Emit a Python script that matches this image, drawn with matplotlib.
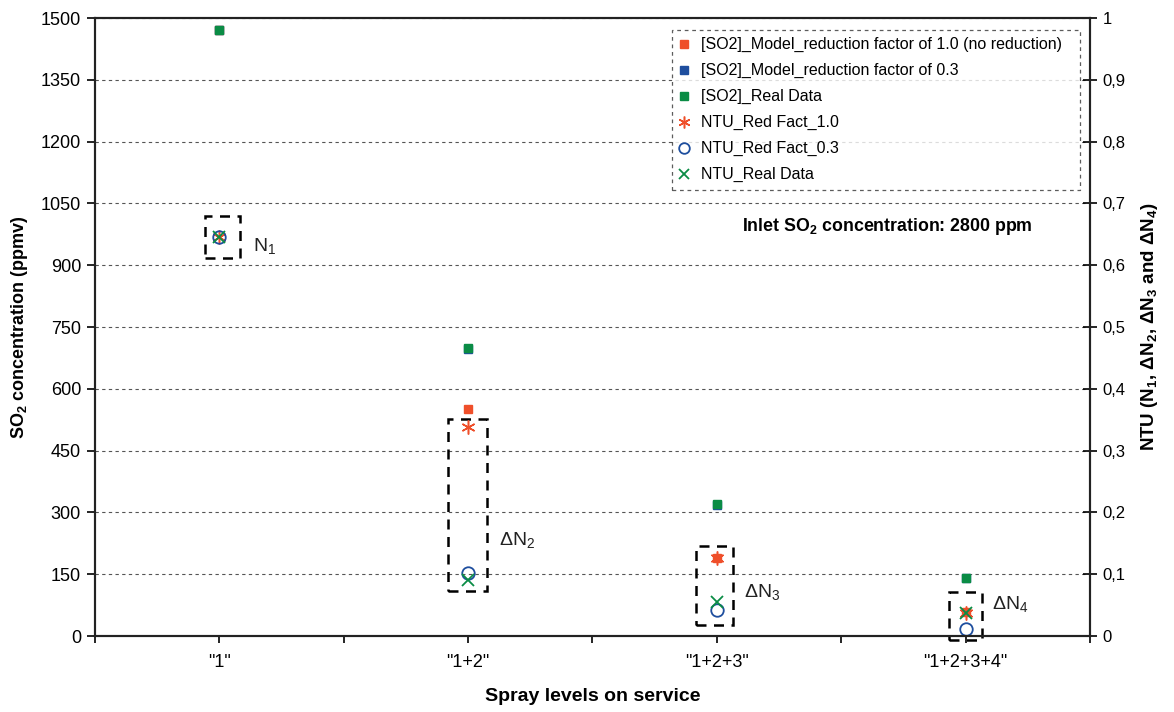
import matplotlib
matplotlib.use('Agg')
import matplotlib.pyplot as plt
from matplotlib.patches import Rectangle

plt.rcParams['font.family'] = ['Liberation Sans', 'DejaVu Sans']
plt.rcParams['mathtext.fontset'] = 'custom'
plt.rcParams['mathtext.rm'] = 'Liberation Sans'
plt.rcParams['mathtext.bf'] = 'Liberation Sans:bold'

# spray levels
categories = ['"1"', '"1+2"', '"1+2+3"', '"1+2+3+4"']

# SO2 concentration (ppmv)
so2_model_10 = [1470, 551, 189, 58]
so2_model_03 = [1470, 697, 318, 142]
so2_real = [1470, 700, 320, 141]

# NTU values
ntu_red_10 = [0.646, 0.338, 0.126, 0.038]
ntu_red_03 = [0.646, 0.102, 0.042, 0.011]
ntu_real = [0.646, 0.091, 0.055, 0.037]

left_ticks = [0, 150, 300, 450, 600, 750, 900, 1050, 1200, 1350, 1500]
right_ticks = [0, 0.1, 0.2, 0.3, 0.4, 0.5, 0.6, 0.7, 0.8, 0.9, 1.0]
right_ticklabels = ['0', '0,1', '0,2', '0,3', '0,4', '0,5', '0,6', '0,7', '0,8', '0,9', '1']

# dashed boxes around the NTU groups: (x0, x1, y0, y1) in x / ppmv units, label
boxes = [(-0.058, 0.083, 917, 1019, 'N$_1$'),
         (0.919, 1.076, 109, 527, '\u0394N$_2$'),
         (1.916, 2.065, 27, 218, '\u0394N$_3$'),
         (2.933, 3.066, -10, 107, '\u0394N$_4$')]
box_label_pos = [(0.135, 945), (1.125, 230), (2.11, 105), (3.105, 75)]

red = '#EF4F2A'
blue = '#1E4E9E'
green = '#0A8C45'

fig = plt.figure(figsize=(11.74, 7.12), dpi=100)
ax = fig.add_axes([0.0809, 0.1067, 0.8475, 0.868])
ax2 = ax.twinx()

x = list(range(len(categories)))

ax.plot(x, so2_model_10, 's', color=red, ms=6, ls='none', label='[SO2]_Model_reduction factor of 1.0 (no reduction)')
ax.plot(x, so2_model_03, 's', color=blue, ms=6, ls='none', label='[SO2]_Model_reduction factor of 0.3')
ax.plot(x, so2_real, 's', color=green, ms=6, ls='none', label='[SO2]_Real Data')

ax2.plot(x, ntu_red_10, marker=(6, 2, 0), color=red, ms=10, mew=1.1, ls='none', label='NTU_Red Fact_1.0')
ax2.plot(x, ntu_red_03, 'o', mfc='none', mec=blue, ms=9, mew=1.3, ls='none', label='NTU_Red Fact_0.3')
ax2.plot(x, ntu_real, 'x', color=green, ms=9, mew=1.3, ls='none', label='NTU_Real Data')

ax.set_xlim(-0.5, 3.5)
ax.set_ylim(0, 1500)
ax2.set_ylim(0, 1)

ax.set_yticks(left_ticks)
ax.set_yticklabels([str(t) for t in left_ticks])
ax2.set_yticks(right_ticks)
ax2.set_yticklabels(right_ticklabels)

ax.set_xticks([-0.5, 0, 0.5, 1, 1.5, 2, 2.5, 3, 3.5])
ax.set_xticklabels(['', categories[0], '', categories[1], '', categories[2], '', categories[3], ''])

ax.grid(axis='y', linestyle=(0, (3, 3)), color='#555555', linewidth=0.8)
ax.set_axisbelow(True)

for a in (ax, ax2):
    for s in a.spines.values():
        s.set_linewidth(1.5)
        s.set_color('#222222')
ax.tick_params(axis='y', direction='out', length=6, width=1.2, labelsize=13, pad=4)
ax.tick_params(axis='x', direction='out', length=5, width=1.2, labelsize=13, pad=8)
ax2.tick_params(axis='y', direction='inout', length=10, width=1.2, labelsize=12, pad=4)

ax.set_xlabel('Spray levels on service', fontsize=14, fontweight='bold', labelpad=12)
ax.set_ylabel('SO$_\\mathbf{2}$ concentration (ppmv)', fontsize=13, fontweight='bold', labelpad=8)
ax2.set_ylabel('NTU (N$_\\mathbf{1}$, \u0394N$_\\mathbf{2}$, \u0394N$_\\mathbf{3}$ and \u0394N$_\\mathbf{4}$)',
               fontsize=13.5, fontweight='bold', labelpad=10)

for (x0, x1, y0, y1, lab), (lx, ly) in zip(boxes, box_label_pos):
    r = Rectangle((x0, y0), x1 - x0, y1 - y0, fill=False, edgecolor='black',
                  linestyle=(0, (4, 3)), linewidth=1.8, clip_on=False, zorder=5)
    ax.add_patch(r)
    ax.text(lx, ly, lab, fontsize=14, color='#222222', va='center', ha='left')

ax.text(3.271, 993, 'Inlet SO$_\\mathbf{2}$ concentration: 2800 ppm', fontsize=12.8, fontweight='bold',
        va='center', ha='right')

h1, l1 = ax.get_legend_handles_labels()
h2, l2 = ax2.get_legend_handles_labels()
leg = ax2.legend(h1 + h2, l1 + l2, loc='upper left', bbox_to_anchor=(0.5799, 0.5, 0.410, 0.4806),
                 mode='expand', borderaxespad=0, fontsize=11.5, frameon=True, fancybox=False,
                 handlelength=0.6, handletextpad=0.75, labelspacing=0.68, borderpad=0.45,
                 markerscale=0.85)
frame = leg.get_frame()
frame.set_edgecolor('#333333')
frame.set_linestyle((0, (3, 3)))
frame.set_linewidth(0.9)

fig.savefig('out.png', dpi=100)
